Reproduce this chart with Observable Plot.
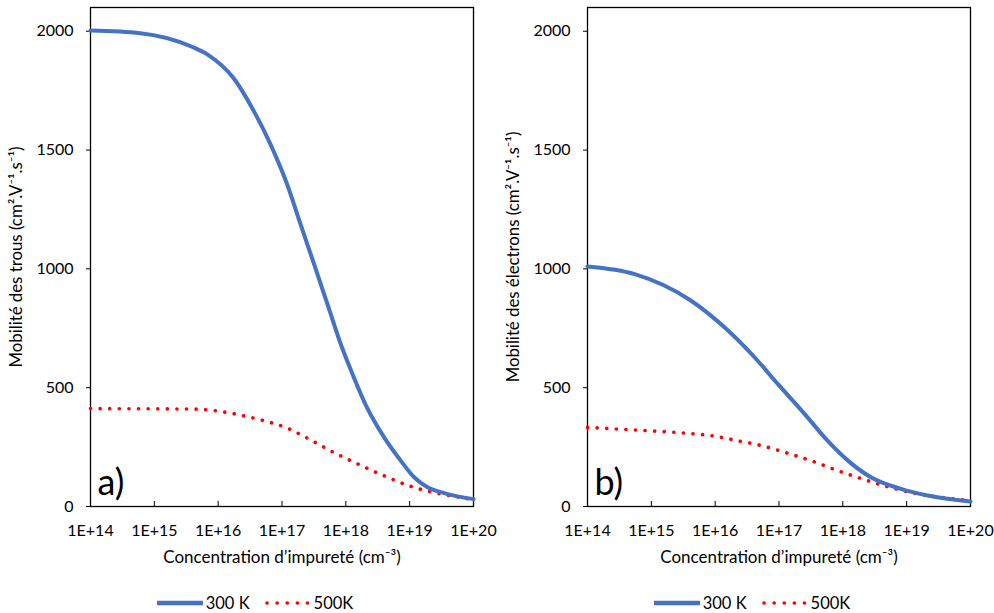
<!DOCTYPE html>
<html>
<head>
<meta charset="utf-8">
<script src="https://cdn.jsdelivr.net/npm/d3@7"></script>
<script src="https://cdn.jsdelivr.net/npm/@observablehq/plot@0.6"></script>
<style>
  html, body { margin: 0; padding: 0; background: #fff; }
  body { width: 994px; height: 613px; overflow: hidden; font-family: Lato, sans-serif; }
  #row { display: flex; }
  .panel { width: 497px; }
  .legend { display: flex; justify-content: center; align-items: center; height: 20px; padding-top: 18px; padding-left: 28px; font-size: 16.5px; color: #000; }
  .legend svg { display: block; }
  .legend span { margin: 0 15px 0 3px; }
</style>
</head>
<body>
<div id="row"></div>
<script>
// Concentration exponents (log10 of cm^-3) and mobility values
const tickExponents = [14, 15, 16, 17, 18, 19, 20];
const yTicks = [0, 500, 1000, 1500, 2000];
const seriesNames = ["300 K", "500K"];

// Panel a) holes
const holes300Exp = [14, 14.78, 15.57, 15.83, 16.24, 16.53, 16.82, 17.08, 17.29, 17.52, 17.73, 17.94, 18.07, 18.33, 18.60, 18.86, 19.07, 19.28, 19.54, 20];
const holes300Val = [2003, 1992, 1937, 1903, 1803, 1678, 1524, 1356, 1188, 1006, 837, 669, 580, 417, 291, 193, 123, 81, 56, 31];
const holes500Exp = [14, 15, 15.62, 15.93, 16.25, 16.66, 17.08, 17.34, 17.60, 17.88, 18.15, 18.41, 18.68, 18.96, 19.25, 19.54, 19.82, 20];
const holes500Val = [412, 411, 410, 404, 390, 365, 330, 296, 258, 218, 184, 151, 120, 90, 67, 50, 37, 27];

// Panel b) electrons
const elec300Exp = [14, 14.74, 15.6, 16.15, 16.62, 16.98, 17.40, 17.76, 18.08, 18.44, 18.91, 19.33, 20];
const elec300Val = [1010, 978, 870, 753, 627, 516, 390, 277, 193, 123, 74, 46, 21];
const elec500Exp = [14, 14.74, 15.47, 15.94, 16.35, 16.77, 17.09, 17.50, 17.92, 18.34, 18.76, 19.17, 19.59, 20];
const elec500Val = [333, 322, 310, 298, 277, 253, 228, 193, 151, 113, 79, 53, 37, 24];

const blue = "#4472C4";
const red = "#FF0000";

function toRows(exps, vals) {
  return exps.map((e, i) => ({x: Math.pow(10, e), y: vals[i]}));
}

function panel(tag, yLabel, s300, s500) {
  const svg = Plot.plot({
    width: 497,
    height: 575,
    marginLeft: 90,
    marginRight: 24,
    marginTop: 7,
    marginBottom: 69,
    style: {fontFamily: "Lato", fontSize: "16px", color: "#000", background: "#fff"},
    x: {type: "log", domain: [1e14, 1e20]},
    y: {domain: [0, 2100]},
    marks: [
      Plot.frame({stroke: "#000", strokeWidth: 1.3}),
      Plot.axisX({
        ticks: tickExponents.map(e => Math.pow(10, e)),
        tickFormat: d => "1E+" + Math.round(Math.log10(d)),
        tickSize: -5,
        tickPadding: 23,
        fontSize: 16,
        label: null
      }),
      Plot.axisX({
        ticks: [],
        tickSize: 0,
        label: "Concentration d\u2019impuret\u00e9 (cm\u207B\u00B3)",
        labelAnchor: "center",
        labelArrow: "none",
        labelOffset: 56,
        fontSize: 17
      }),
      Plot.axisY({
        ticks: yTicks,
        tickFormat: d => String(d),
        tickSize: 4,
        tickPadding: 13,
        fontSize: 16,
        label: null
      }),
      Plot.axisY({
        ticks: [],
        tickSize: 0,
        label: yLabel,
        labelAnchor: "center",
        labelArrow: "none",
        labelOffset: 80,
        fontSize: 16.8
      }),
      Plot.line(s500, {x: "x", y: "y", stroke: red, strokeWidth: 3.6, strokeDasharray: "0.1 9.5", strokeLinecap: "round", curve: "monotone-x"}),
      Plot.line(s300, {x: "x", y: "y", stroke: blue, strokeWidth: 4, curve: "monotone-x"}),
      Plot.text([tag], {frameAnchor: "bottom-left", dx: 7, dy: -12, fontSize: 36, textAnchor: "start", lineAnchor: "bottom", fill: "#000"})
    ]
  });
  return svg;
}

function legend() {
  const div = document.createElement("div");
  div.className = "legend";
  div.innerHTML =
    `<svg width="46" height="8"><line x1="0" y1="4" x2="46" y2="4" stroke="${blue}" stroke-width="4.5"/></svg><span>${seriesNames[0]}</span>` +
    `<svg width="46" height="8"><line x1="2" y1="4" x2="44" y2="4" stroke="${red}" stroke-width="3.6" stroke-dasharray="0.1 10" stroke-linecap="round"/></svg><span>${seriesNames[1]}</span>`;
  return div;
}

const row = document.getElementById("row");
const specs = [
  ["a)", "Mobilit\u00e9 des trous (cm\u00B2.V\u207B\u00B9.s\u207B\u00B9)", toRows(holes300Exp, holes300Val), toRows(holes500Exp, holes500Val)],
  ["b)", "Mobilit\u00e9 des \u00e9lectrons (cm\u00B2.V\u207B\u00B9.s\u207B\u00B9)", toRows(elec300Exp, elec300Val), toRows(elec500Exp, elec500Val)]
];
for (const [tag, lab, a, b] of specs) {
  const p = document.createElement("div");
  p.className = "panel";
  p.appendChild(panel(tag, lab, a, b));
  p.appendChild(legend());
  row.appendChild(p);
}
</script>
</body>
</html>
